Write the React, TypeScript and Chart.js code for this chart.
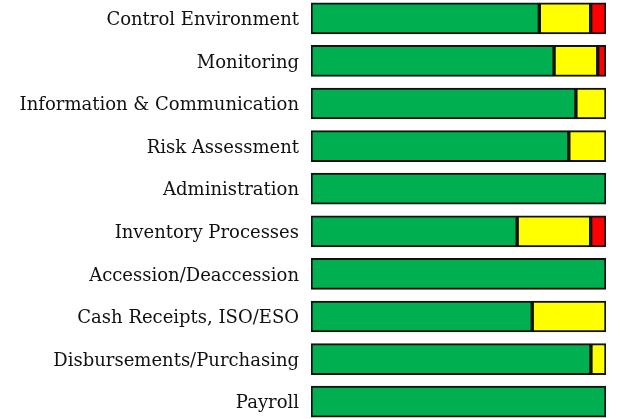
import React, { useEffect, useRef } from "react";
import { Chart, registerables } from "chart.js";

Chart.register(...registerables);

const categories = [
  "Control Environment",
  "Monitoring",
  "Information & Communication",
  "Risk Assessment",
  "Administration",
  "Inventory Processes",
  "Accession/Deaccession",
  "Cash Receipts, ISO/ESO",
  "Disbursements/Purchasing",
  "Payroll",
];

const greenValues = [77.4, 82.4, 89.8, 87.4, 100, 69.9, 100, 75, 94.9, 100];
const yellowValues = [17.4, 14.8, 10.2, 12.6, 0, 24.9, 0, 25, 5.1, 0];
const redValues = [5.2, 2.8, 0, 0, 0, 5.2, 0, 0, 0, 0];

export default function App() {
  const canvasRef = useRef<HTMLCanvasElement | null>(null);

  useEffect(() => {
    document.body.style.margin = "0";
    document.body.style.overflow = "hidden";
    const canvas = canvasRef.current;
    if (!canvas) return;
    const common = {
      borderColor: "#111111",
      borderWidth: 2,
      borderSkipped: false as const,
      barThickness: 31,
    };
    const chart = new Chart(canvas, {
      type: "bar",
      data: {
        labels: categories,
        datasets: [
          { label: "Green", data: greenValues, backgroundColor: "#00b050", ...common },
          { label: "Yellow", data: yellowValues, backgroundColor: "#ffff00", ...common },
          { label: "Red", data: redValues, backgroundColor: "#ff0000", ...common },
        ],
      },
      options: {
        indexAxis: "y",
        responsive: false,
        animation: false,
        layout: { padding: { left: 0, right: 14, top: 0, bottom: 0 } },
        plugins: {
          legend: { display: false },
          tooltip: { enabled: false },
        },
        scales: {
          x: {
            stacked: true,
            min: 0,
            max: 100,
            display: false,
          },
          y: {
            stacked: true,
            grid: { display: false, drawTicks: false },
            border: { display: false },
            ticks: {
              color: "#111111",
              padding: 12,
              labelOffset: 2,
              font: { family: "DejaVu Serif", size: 18 },
            },
            afterFit: (scale: any) => {
              scale.width = 311;
              scale.paddingTop = 0;
              scale.paddingBottom = 0;
            },
          },
        },
      },
    });
    return () => chart.destroy();
  }, []);

  return (
    <div style={{ position: "fixed", left: 0, top: -3, width: 620, height: 426 }}>
      <canvas ref={canvasRef} width={620} height={426} style={{ display: "block" }} />
    </div>
  );
}
